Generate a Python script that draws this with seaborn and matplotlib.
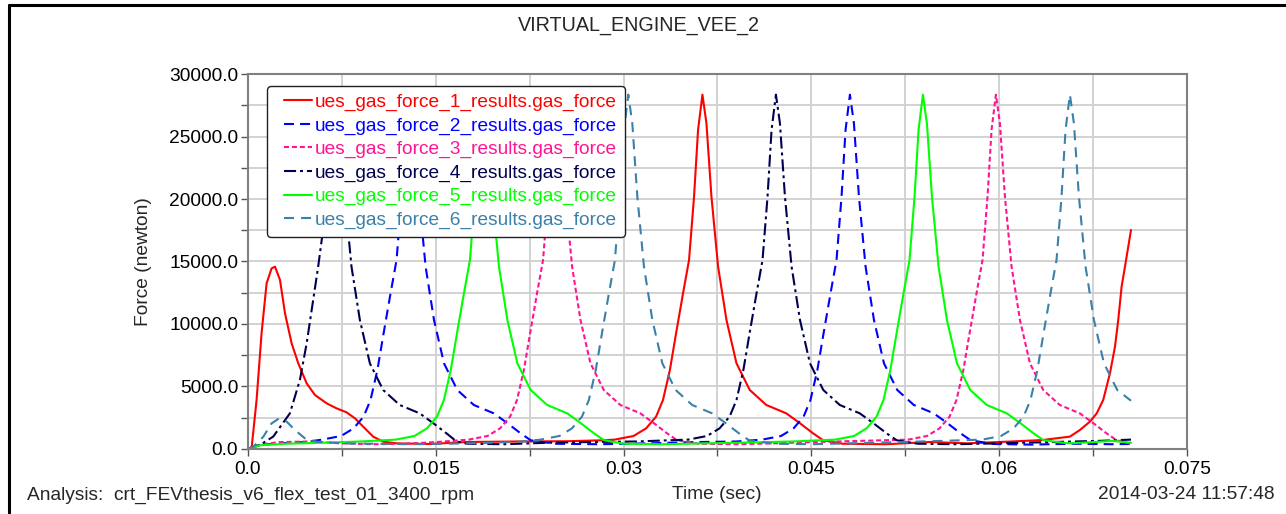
import matplotlib
matplotlib.use("Agg")
import numpy as np
import matplotlib.pyplot as plt
from matplotlib.lines import Line2D
from matplotlib.legend_handler import HandlerLine2D
from matplotlib.ticker import MultipleLocator, FixedLocator
import seaborn as sns

# ---- data: time (sec) and gas force (newton) for each cylinder ----
t_1 = [0.0, 0.0003, 0.00069, 0.00109, 0.00149, 0.00189, 0.00216, 0.00256, 0.00296, 0.00349,
       0.00402, 0.00469, 0.00535, 0.00629, 0.00708, 0.00788, 0.00855, 0.00921, 0.01001, 0.01081,
       0.01188, 0.0145, 0.0175, 0.0215, 0.0255, 0.0285,
       0.0293, 0.0308, 0.0318, 0.0326, 0.03315, 0.0337, 0.0342, 0.03475, 0.03523, 0.03563,
       0.03595, 0.0363, 0.03662, 0.03702, 0.03755, 0.03822, 0.03902, 0.04008, 0.0414, 0.043,
       0.0441, 0.04514, 0.04594, 0.0475, 0.051, 0.0545, 0.0575, 0.061, 0.0635,
       0.06565, 0.06645, 0.06725, 0.06779, 0.06831, 0.06885, 0.06925, 0.06951, 0.06978, 0.07018, 0.07053]
f_1 = [0, 150, 3920, 9280, 13250, 14450, 14590, 13520, 10850, 8450,
       6850, 5250, 4320, 3650, 3250, 2930, 2450, 1780, 980, 580,
       450, 400, 560, 600, 620, 700,
       750, 1040, 1650, 2590, 3920, 6320, 9280, 12450, 15120, 20190,
       25520, 28350, 26050, 20190, 14590, 10320, 6850, 4720, 3520, 2850,
       2050, 1250, 700, 420, 380, 560, 450, 600, 720,
       990, 1520, 2190, 2850, 3920, 6060, 8190, 10320, 12990, 15390, 17520]

t_2 = [0.0, 0.0008, 0.0025, 0.0045, 0.00594, 0.00744, 0.00844, 0.00924, 0.00979, 0.01034,
       0.01084, 0.01139, 0.01187, 0.01227, 0.01259, 0.01294, 0.01326, 0.01366, 0.01419, 0.01486,
       0.01566, 0.01672, 0.01804, 0.01964, 0.02074, 0.02178, 0.02258, 0.0245, 0.028, 0.032,
       0.0355, 0.039, 0.04108, 0.04258, 0.04358, 0.04438, 0.04493, 0.04548, 0.04598, 0.04653,
       0.04701, 0.04741, 0.04773, 0.04808, 0.0484, 0.0488, 0.04933, 0.05, 0.0508, 0.05186,
       0.05318, 0.05478, 0.05588, 0.05692, 0.05772, 0.0595, 0.0625, 0.066, 0.069, 0.07053]
f_2 = [0, 300, 450, 550, 750, 1040, 1650, 2590, 3920, 6320,
       9280, 12450, 15120, 20190, 25520, 28350, 26050, 20190, 14590, 10320,
       6850, 4720, 3520, 2850, 2050, 1250, 700, 420, 380, 450,
       550, 600, 750, 1040, 1650, 2590, 3920, 6320, 9280, 12450,
       15120, 20190, 25520, 28350, 26050, 20190, 14590, 10320, 6850, 4720,
       3520, 2850, 2050, 1250, 700, 400, 350, 420, 380, 400]

t_3 = [0.0, 0.001, 0.0025, 0.005, 0.0075, 0.01, 0.0125, 0.015, 0.01764, 0.01914,
       0.02014, 0.02094, 0.02149, 0.02204, 0.02254, 0.02309, 0.02357, 0.02397, 0.02429, 0.02464,
       0.02496, 0.02536, 0.02589, 0.02656, 0.02736, 0.02842, 0.02974, 0.03134, 0.03244, 0.03348,
       0.03428, 0.036, 0.039, 0.042, 0.045, 0.049, 0.05274, 0.05424, 0.05524, 0.05604,
       0.05659, 0.05714, 0.05764, 0.05819, 0.05867, 0.05907, 0.05939, 0.05974, 0.06006, 0.06046,
       0.06099, 0.06166, 0.06246, 0.06352, 0.06484, 0.06644, 0.06754, 0.06858, 0.06938, 0.07053]
f_3 = [0, 350, 550, 600, 450, 380, 420, 550, 750, 1040,
       1650, 2590, 3920, 6320, 9280, 12450, 15120, 20190, 25520, 28350,
       26050, 20190, 14590, 10320, 6850, 4720, 3520, 2850, 2050, 1250,
       700, 420, 380, 450, 550, 650, 750, 1040, 1650, 2590,
       3920, 6320, 9280, 12450, 15120, 20190, 25520, 28350, 26050, 20190,
       14590, 10320, 6850, 4720, 3520, 2850, 2050, 1250, 700, 400]

t_4 = [0.0, 0.00096, 0.00202, 0.00335, 0.00415, 0.00469, 0.00509, 0.00561, 0.00635, 0.00667,
       0.00702, 0.00734, 0.00774, 0.00827, 0.00894, 0.00974, 0.0108, 0.01212, 0.01372, 0.01482,
       0.01586, 0.01666, 0.0175, 0.0205, 0.024, 0.0275, 0.031, 0.03517, 0.03667, 0.03767,
       0.03847, 0.03902, 0.03957, 0.04007, 0.04062, 0.0411, 0.0415, 0.04182, 0.04217, 0.04249,
       0.04289, 0.04342, 0.04409, 0.04489, 0.04595, 0.04727, 0.04887, 0.04997, 0.05101, 0.05181,
       0.0535, 0.0565, 0.06, 0.064, 0.068, 0.07053]
f_4 = [0, 320, 990, 2850, 5520, 8450, 11120, 14590, 20190, 25520,
       28350, 26050, 20190, 14590, 10320, 6850, 4720, 3520, 2850, 2050,
       1250, 600, 420, 380, 500, 560, 600, 750, 1040, 1650,
       2590, 3920, 6320, 9280, 12450, 15120, 20190, 25520, 28350, 26050,
       20190, 14590, 10320, 6850, 4720, 3520, 2850, 2050, 1250, 700,
       420, 380, 450, 550, 650, 750]

t_5 = [0.0, 0.001, 0.003, 0.006, 0.009, 0.0118, 0.0133, 0.0143, 0.0151, 0.01565,
       0.0162, 0.0167, 0.01725, 0.01773, 0.01813, 0.01845, 0.0188, 0.01912, 0.01952, 0.02005,
       0.02072, 0.02152, 0.02258, 0.0239, 0.0255, 0.0266, 0.02764, 0.02844, 0.03, 0.033,
       0.0365, 0.04, 0.0435, 0.04691, 0.04841, 0.04941, 0.05021, 0.05076, 0.05131, 0.05181,
       0.05236, 0.05284, 0.05324, 0.05356, 0.05391, 0.05423, 0.05463, 0.05516, 0.05583, 0.05663,
       0.05769, 0.05901, 0.06061, 0.06171, 0.06275, 0.06355, 0.0655, 0.0675, 0.069, 0.07053]
f_5 = [0, 300, 420, 500, 600, 750, 1040, 1650, 2590, 3920,
       6320, 9280, 12450, 15120, 20190, 25520, 28350, 26050, 20190, 14590,
       10320, 6850, 4720, 3520, 2850, 2050, 1250, 700, 420, 380,
       450, 520, 600, 750, 1040, 1650, 2590, 3920, 6320, 9280,
       12450, 15120, 20190, 25520, 28350, 26050, 20190, 14590, 10320, 6850,
       4720, 3520, 2850, 2050, 1250, 700, 450, 550, 650, 500]

t_6 = [0.0, 0.00043, 0.00123, 0.00189, 0.0025, 0.00309, 0.00375, 0.00455, 0.00548, 0.0075,
       0.01, 0.013, 0.016, 0.0195, 0.022, 0.02338, 0.02488, 0.02588, 0.02668, 0.02723,
       0.02778, 0.02828, 0.02883, 0.02931, 0.02971, 0.03003, 0.03038, 0.0307, 0.0311, 0.03163,
       0.0323, 0.0331, 0.03416, 0.03548, 0.03708, 0.03818, 0.03922, 0.04002, 0.042, 0.045,
       0.048, 0.052, 0.0555, 0.05865, 0.06015, 0.06115, 0.06195, 0.0625, 0.06305, 0.06355,
       0.0641, 0.06458, 0.06498, 0.0653, 0.06565, 0.06597, 0.06637, 0.0669, 0.06757, 0.06837,
       0.06943, 0.07053]
f_6 = [0, 190, 980, 2050, 2450, 2190, 1520, 850, 580, 450,
       420, 380, 420, 500, 600, 750, 1040, 1650, 2590, 3920,
       6320, 9280, 12450, 15120, 20190, 25520, 28350, 26050, 20190, 14590,
       10320, 6850, 4720, 3520, 2850, 2050, 1250, 700, 420, 380,
       450, 550, 650, 750, 1040, 1650, 2590, 3920, 6320, 9280,
       12450, 15120, 20190, 25520, 28350, 26050, 20190, 14590, 10320, 6850,
       4720, 3860]

labels = [f"ues_gas_force_{i}_results.gas_force" for i in range(1, 7)]
times = [t_1, t_2, t_3, t_4, t_5, t_6]
forces = [f_1, f_2, f_3, f_4, f_5, f_6]

colors = ["#FF0000", "#0000FF", "#FF1493", "#000050", "#00FF00", "#3A80AA"]
dash_styles = [None, (4.8, 2.9), (2.4, 1.4), (5.8, 1.9, 1.4, 1.9), None, (4.8, 3.4)]

x_ticks = [0.0, 0.015, 0.03, 0.045, 0.06, 0.075]
x_tick_labels = ["0.0", "0.015", "0.03", "0.045", "0.06", "0.075"]
y_ticks = [0, 5000, 10000, 15000, 20000, 25000, 30000]
y_tick_labels = ["0.0", "5000.0", "10000.0", "15000.0", "20000.0", "25000.0", "30000.0"]

sns.set_theme(style="white")
plt.rcParams["font.family"] = ["Liberation Sans", "DejaVu Sans"]
FS = 13.8


class InsetLineHandler(HandlerLine2D):
    """Legend line sample that leaves a blank gap on its left side."""

    def __init__(self, gap, **kw):
        super().__init__(**kw)
        self.gap = gap

    def create_artists(self, legend, orig_handle, xdescent, ydescent,
                       width, height, fontsize, trans):
        artists = super().create_artists(legend, orig_handle, xdescent, ydescent,
                                         width, height, fontsize, trans)
        for a in artists:
            xd = np.asarray(a.get_xdata(), dtype=float)
            if len(xd) >= 2:
                a.set_xdata(np.linspace(xd[0] + self.gap * fontsize, xd[-1], len(xd)))
        return artists


fig = plt.figure(figsize=(12.86, 5.14), dpi=100)
ax = fig.add_axes([0.1928, 0.1265, 0.7302, 0.7295])

for t, f, c, d, lab in zip(times, forces, colors, dash_styles, labels):
    kw = dict(x=t, y=f, ax=ax, color=c, linewidth=1.5, label=lab,
              estimator=None, errorbar=None, sort=False)
    if d is not None:
        kw["dashes"] = d
    sns.lineplot(**kw)

ax.set_xlim(0, 0.075)
ax.set_ylim(0, 30000)
ax.xaxis.set_major_locator(FixedLocator(x_ticks))
ax.set_xticklabels(x_tick_labels)
ax.xaxis.set_minor_locator(MultipleLocator(0.0075))
ax.yaxis.set_major_locator(FixedLocator(y_ticks))
ax.set_yticklabels(y_tick_labels)
ax.yaxis.set_minor_locator(MultipleLocator(2500))
ax.grid(True, which="both", color="#CFCFCF", linewidth=1.3)
ax.set_axisbelow(True)
ax.tick_params(axis="both", which="both", direction="out", length=5, width=1,
               color="#555555", labelsize=FS, labelcolor="black",
               bottom=True, left=True, top=False, right=False)
ax.tick_params(axis="x", pad=4)
ax.tick_params(axis="y", pad=2)
for s in ax.spines.values():
    s.set_color("#808080")
    s.set_linewidth(1.5)

ax.set_xlabel("")
ax.set_ylabel("Force (newton)", fontsize=FS, labelpad=12)

line_handles = ax.get_lines()[:6]
hmap = {h: InsetLineHandler(gap=0.5) for h in line_handles}
leg = ax.legend(handles=line_handles, labels=labels, handler_map=hmap,
                loc="upper left", bbox_to_anchor=(0.0202, 0.968), borderaxespad=0,
                fontsize=FS, handlelength=1.95, handletextpad=0.15, labelspacing=0.31,
                borderpad=0.4, frameon=True, fancybox=True, framealpha=1)
leg.get_frame().set_edgecolor("#202020")
leg.get_frame().set_linewidth(1.0)
for txt, c in zip(leg.get_texts(), colors):
    txt.set_color(c)

fig.text(0.4965, 0.951, "VIRTUAL_ENGINE_VEE_2", ha="center", va="center", fontsize=14.2)
fig.text(0.021, 0.037, "Analysis:  crt_FEVthesis_v6_flex_test_01_3400_rpm", ha="left", va="center", fontsize=FS)
fig.text(0.5575, 0.037, "Time (sec)", ha="center", va="center", fontsize=FS)
fig.text(0.9915, 0.037, "2014-03-24 11:57:48", ha="right", va="center", fontsize=FS)

# page frame along the top and left edges
fig.add_artist(Line2D([9 / 1286, 1.0], [1 - 5 / 514, 1 - 5 / 514], transform=fig.transFigure,
                      color="black", linewidth=2.2))
fig.add_artist(Line2D([9 / 1286, 9 / 1286], [0.0, 1 - 5 / 514], transform=fig.transFigure,
                      color="black", linewidth=2.2))

fig.savefig("out.png", dpi=100)
